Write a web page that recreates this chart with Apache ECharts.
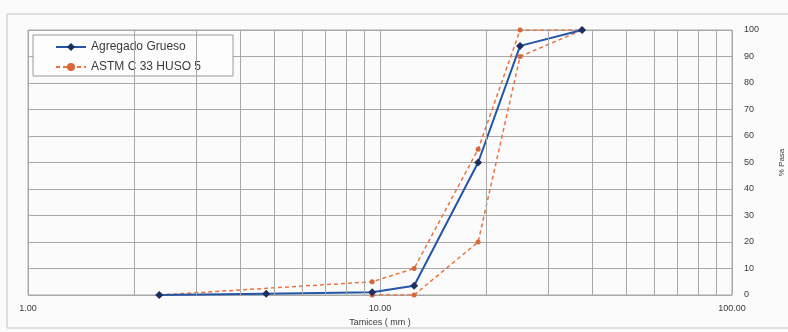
<!DOCTYPE html>
<html>
<head>
<meta charset="utf-8">
<style>
  html, body { margin: 0; padding: 0; background: #fbfbfb; }
  #chart { width: 788px; height: 332px; }
</style>
<script src="https://cdn.jsdelivr.net/npm/echarts@6/dist/echarts.min.js"></script>
</head>
<body>
<div id="chart"></div>
<script>
// Sieve openings (mm) and cumulative % passing
const sieveSizes = [2.36, 4.75, 9.5, 12.5, 19.0, 25.0, 37.5];
const agregadoGrueso = [0, 0.5, 1, 3.5, 50, 94, 100];

// ASTM C 33, size number 5 limits
const husoUpperSizes = [2.36, 9.5, 12.5, 19.0, 25.0, 37.5];
const husoUpper = [0, 5, 10, 55, 100, 100];
const husoLowerSizes = [9.5, 12.5, 19.0, 25.0, 37.5];
const husoLower = [0, 0, 20, 90, 100];

// Intermediate logarithmic grid lines
const minorGrid = [2, 3, 4, 5, 6, 7, 8, 9, 20, 30, 40, 50, 60, 70, 80, 90];

const pairs = (xs, ys) => xs.map((x, i) => [x, ys[i]]);

const chart = echarts.init(document.getElementById('chart'));
const gridColor = '#a8a8a8';
const textColor = '#3a3a3a';
const orange = '#e9743f';

chart.setOption({
  backgroundColor: '#fbfbfb',
  animation: false,
  textStyle: { fontFamily: 'Liberation Sans, Arial, sans-serif' },
  graphic: [{
    type: 'rect',
    shape: { x: 7, y: 14, width: 800, height: 314 },
    style: { fill: 'none', stroke: '#c4c4c4', lineWidth: 1 },
    silent: true,
    z: -1
  }],
  grid: {
    left: 28, right: 56, top: 30, bottom: 37,
    outerBoundsMode: 'none',
    show: true, borderColor: gridColor, borderWidth: 1
  },
  legend: {
    orient: 'vertical',
    left: 33, top: 35,
    padding: [6, 32, 3, 22],
    itemWidth: 30, itemHeight: 10, itemGap: 8,
    borderColor: '#9a9a9a', borderWidth: 1,
    backgroundColor: '#fdfdfd',
    textStyle: { fontSize: 12, color: textColor },
    data: ['Agregado Grueso', 'ASTM C 33 HUSO 5']
  },
  xAxis: {
    type: 'log', logBase: 10, min: 1, max: 100,
    name: 'Tamices ( mm )',
    nameLocation: 'middle', nameGap: 20,
    nameTextStyle: { fontSize: 9, color: textColor },
    axisLine: { show: false },
    axisTick: { show: false },
    axisLabel: {
      fontSize: 9, color: textColor, margin: 9,
      formatter: v => v.toFixed(2)
    },
    splitLine: { show: true, lineStyle: { color: gridColor, width: 1 } }
  },
  yAxis: {
    type: 'value', min: 0, max: 100, interval: 10,
    position: 'right',
    name: '% Pasa',
    nameLocation: 'middle', nameGap: 46, nameRotate: 90,
    nameTextStyle: { fontSize: 8, color: textColor },
    axisLine: { show: false },
    axisTick: { show: false },
    axisLabel: { fontSize: 9, color: textColor, margin: 12, align: 'left' },
    splitLine: { show: true, lineStyle: { color: gridColor, width: 1 } }
  },
  series: [
    {
      name: 'ASTM C 33 HUSO 5',
      type: 'line',
      data: pairs(husoUpperSizes, husoUpper),
      symbol: 'circle', symbolSize: 5,
      lineStyle: { color: orange, width: 1.5, type: [4, 3] },
      itemStyle: { color: '#d8663a' },
      z: 3,
      markLine: {
        silent: true, symbol: 'none', animation: false,
        label: { show: false },
        lineStyle: { color: gridColor, width: 1, type: 'solid' },
        data: minorGrid.map(v => ({ xAxis: v }))
      }
    },
    {
      name: 'ASTM C 33 HUSO 5',
      type: 'line',
      data: pairs(husoLowerSizes, husoLower),
      symbol: 'circle', symbolSize: 5,
      lineStyle: { color: orange, width: 1.5, type: [4, 3] },
      itemStyle: { color: '#d8663a' },
      z: 3
    },
    {
      name: 'Agregado Grueso',
      type: 'line',
      data: pairs(sieveSizes, agregadoGrueso),
      symbol: 'diamond', symbolSize: 8,
      lineStyle: { color: '#2456a8', width: 2 },
      itemStyle: { color: '#1d2f5e' },
      z: 4
    }
  ]
});
</script>
</body>
</html>
